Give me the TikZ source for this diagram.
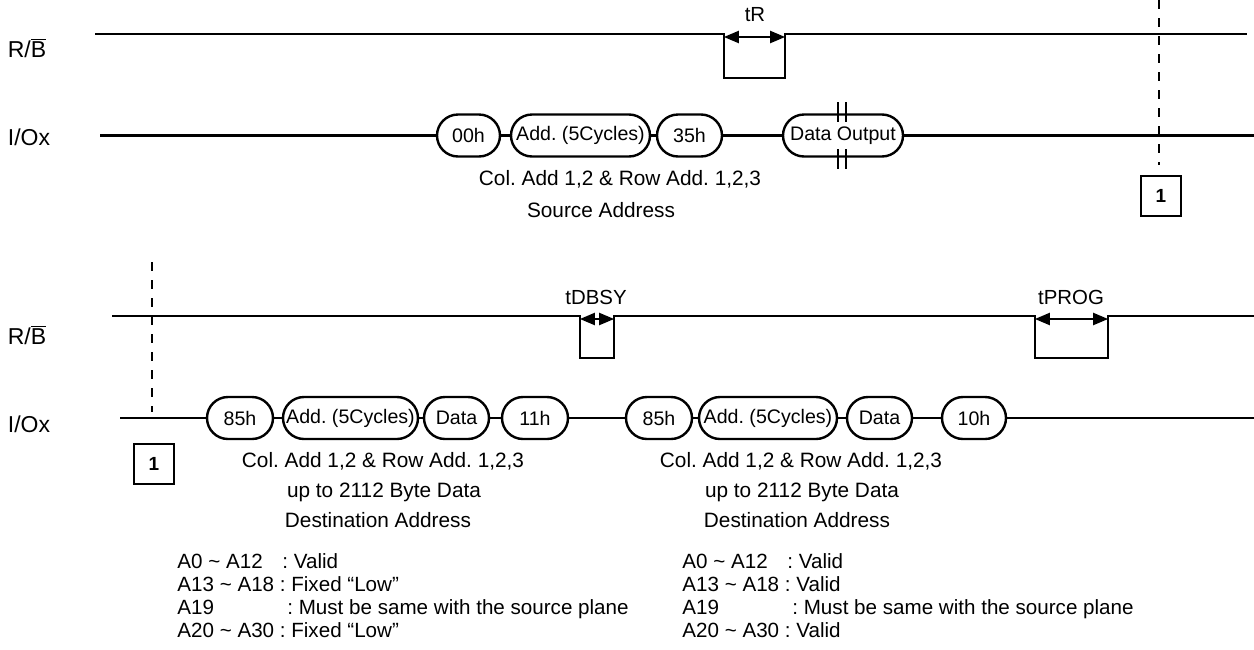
\documentclass[tikz,border=0pt]{standalone}
\usepackage{fontspec}
\setmainfont{Liberation Sans}
\usetikzlibrary{calc}
\usetikzlibrary{arrows}
\frenchspacing
\tikzset{every node/.style={font=\fontsize{10.4}{12}\selectfont}}

\begin{document}
\begin{tikzpicture}[x=0.5pt,y=-0.5pt,line cap=butt,line join=miter,>=triangle 45,
  sig/.style={line width=1.2pt},
  pill/.style={draw,line width=1.2pt,rounded corners=10.5pt,minimum height=21pt,inner xsep=0.5pt,inner ysep=1pt,font=\fontsize{9.8}{11}\selectfont},
  boxone/.style={draw,line width=1.3pt,minimum width=20pt,minimum height=20pt,inner sep=0pt,font=\fontsize{9.5}{11}\selectfont\bfseries},
  guide/.style={line width=1.2pt,dash pattern=on 4.5pt off 4.5pt},
  span/.style={<->,line width=0.7pt},
  note/.style={anchor=base west,inner sep=0pt,font=\fontsize{10.3}{12}\selectfont},
  subtext/.style={anchor=base},
  pinname/.style={font=\fontsize{11.5}{13}\selectfont},
  tname/.style={font=\fontsize{10.2}{12}\selectfont}]
\useasboundingbox (0,0) rectangle (1254,649);

% ---------- source read ----------
\node[pinname] (rb1) at (27,48) {R/$\overline{\mbox{B}}$};
\node[pinname] (io1) at (29,137) {I/Ox};
\coordinate (rb1s) at (95,34);
\coordinate (rb1e) at (1247,34);
\coordinate (trA) at (724,34);
\coordinate (trB) at (785,34);
\draw[sig] (rb1s) -- (trA) -- (724,78) -- (785,78) -- (trB) -- (rb1e);
\draw[span] ($(trA)+(0,3)$) -- ($(trB)+(0,3)$);
\node[tname] (tr) at (755,15) {tR};

\node[pill,minimum width=31.5pt] (c00) at (468.5,135.5) {00h};
\node[pill,minimum width=69.5pt] (a1) at (580.5,135.5) {Add. (5Cycles)};
\node[pill,minimum width=32.5pt] (c35) at (689.5,135.5) {35h};
\node[pill,minimum width=60pt] (dout) at (843,135.5) {Data Output};
\coordinate (io1s) at (100,135.5);
\coordinate (io1e) at (1254,135.5);
\draw[sig] (io1s) -- (c00.west);
\draw[sig] (c00.east) -- (a1.west);
\draw[sig] (a1.east) -- (c35.west);
\draw[sig] (c35.east) -- (dout.west);
\draw[sig] (dout.east) -- (io1e);
\foreach \xx in {838,846} {
  \draw[line width=1.1pt] (\xx,102) -- (\xx,122);
  \draw[line width=1.1pt] (\xx,149) -- (\xx,169);
}
\node[subtext] (srcA) at (620,185) {Col. Add 1,2 \& Row Add. 1,2,3};
\node[subtext] (srcB) at (601,217) {Source Address};

\node[boxone] (k1) at (1161,196) {1};
\draw[guide] (1159,0) -- (1159,165);

% ---------- copy back program ----------
\node[pinname] (rb2) at (27,335) {R/$\overline{\mbox{B}}$};
\node[pinname] (io2) at (29,424) {I/Ox};
\coordinate (rb2s) at (112,316);
\coordinate (rb2e) at (1254,316);
\coordinate (tdA) at (580,316);
\coordinate (tdB) at (614,316);
\coordinate (tpA) at (1035,316);
\coordinate (tpB) at (1108,316);
\draw[sig] (rb2s) -- (tdA) -- (580,358) -- (614,358) -- (tdB) -- (tpA) -- (1035,358) -- (1108,358) -- (tpB) -- (rb2e);
\draw[span] ($(tdA)+(0,3)$) -- ($(tdB)+(0,3)$);
\draw[span] ($(tpA)+(0,3)$) -- ($(tpB)+(0,3)$);
\node[tname] (tdbsy) at (596,297) {tDBSY};
\node[tname] (tprog) at (1071,297) {tPROG};

\node[pill,minimum width=33pt] (c85a) at (240,418) {85h};
\node[pill,minimum width=67.5pt] (a2) at (350.5,418) {Add. (5Cycles)};
\node[pill,minimum width=32.5pt] (d2) at (456.5,418) {Data};
\node[pill,minimum width=33pt] (c11) at (535,418) {11h};
\node[pill,minimum width=33pt] (c85b) at (659,418) {85h};
\node[pill,minimum width=69pt] (a3) at (768,418) {Add. (5Cycles)};
\node[pill,minimum width=32.5pt] (d3) at (879.5,418) {Data};
\node[pill,minimum width=32pt] (c10) at (974,418) {10h};
\coordinate (io2s) at (120,418);
\coordinate (io2e) at (1254,418);
\draw[sig] (io2s) -- (c85a.west);
\draw[sig] (c85a.east) -- (a2.west);
\draw[sig] (a2.east) -- (d2.west);
\draw[sig] (d2.east) -- (c11.west);
\draw[sig] (c11.east) -- (c85b.west);
\draw[sig] (c85b.east) -- (a3.west);
\draw[sig] (a3.east) -- (d3.west);
\draw[sig] (d3.east) -- (c10.west);
\draw[sig] (c10.east) -- (io2e);

\node[boxone] (k2) at (154,464) {1};
\draw[guide] (152,262) -- (152,412);

\node[subtext] (dstA) at (383,467) {Col. Add 1,2 \& Row Add. 1,2,3};
\node[subtext] (dstB) at (384,497) {up to 2112 Byte Data};
\node[subtext] (dstC) at (378,527) {Destination Address};
\node[subtext] (dstD) at (801,467) {Col. Add 1,2 \& Row Add. 1,2,3};
\node[subtext] (dstE) at (802,497) {up to 2112 Byte Data};
\node[subtext] (dstF) at (797,527) {Destination Address};

% address notes
\node[note] (n1) at (177,568) {A0 \textasciitilde{} A12};
\node[note] (n1v) at (282,568) {: Valid};
\node[note] (n2) at (177,591) {A13 \textasciitilde{} A18 : Fixed “Low”};
\node[note] (n3) at (177,614) {A19};
\node[note] (n3v) at (287,614) {: Must be same with the source plane};
\node[note] (n4) at (177,637) {A20 \textasciitilde{} A30 : Fixed “Low”};

\node[note] (m1) at (682,568) {A0 \textasciitilde{} A12};
\node[note] (m1v) at (787,568) {: Valid};
\node[note] (m2) at (682,591) {A13 \textasciitilde{} A18 : Valid};
\node[note] (m3) at (682,614) {A19};
\node[note] (m3v) at (792,614) {: Must be same with the source plane};
\node[note] (m4) at (682,637) {A20 \textasciitilde{} A30 : Valid};
\end{tikzpicture}
\end{document}
